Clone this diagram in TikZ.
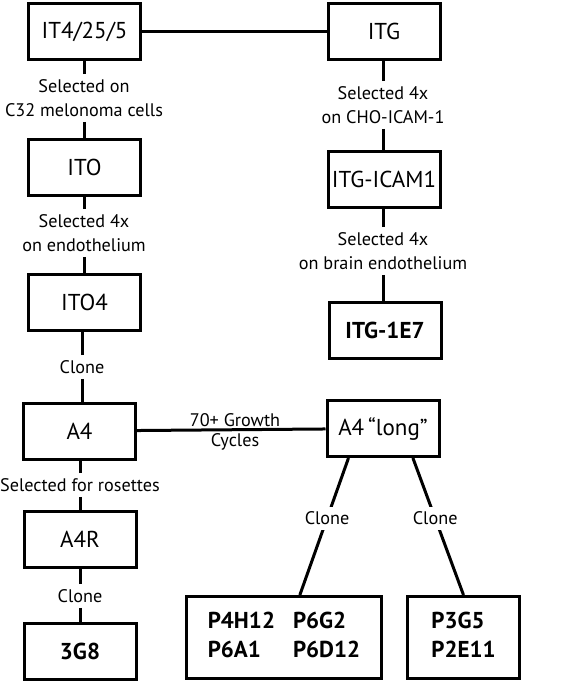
\documentclass[tikz,border=0pt]{standalone}
\usepackage{fontspec}
\setmainfont{PT Sans}
\usetikzlibrary{calc}

\begin{document}
\begin{tikzpicture}[x=1pt,y=-1pt]
\tikzset{box/.style = {shape=rectangle,draw,line width=3pt,minimum width=112pt,minimum height=56pt,inner sep=0pt,font=\fontsize{23}{26}\selectfont}}
\tikzset{lbl/.style = {align=center,inner sep=5pt,font=\fontsize{18.2}{24}\selectfont}}
\tikzset{edge/.style = {line width=3pt}}
\useasboundingbox (0,0) rectangle (566,685);
% boxes
\node[box] (it4) at (84.5,31.5) {IT4/25/5};
\node[box] (itg) at (384,31.5) {ITG};
\node[box] (ito) at (84.5,167.5) {ITO};
\node[box] (ito4) at (84.5,302.5) {ITO4};
\node[box] (a4) at (79.5,431) {A4};
\node[box] (a4r) at (80,539.5) {A4R};
\node[box] (g3g8) at (80,651.5) {\bfseries 3G8};
\node[box] (itgicam) at (384,179.5) {ITG-ICAM1};
\node[box] (itg1e7) at (385,330.5) {\bfseries ITG-1E7};
\node[box] (a4long) at (383,428.5) {A4\,“long”};
\node[box,minimum width=195pt,minimum height=82pt] (pa) at (284,637.5)
  {\bfseries\begin{tabular}{@{}l@{\hspace{18pt}}l@{}}P4H12 & P6G2\\[3pt] P6A1 & P6D12\end{tabular}};
\node[box,minimum height=82pt] (pb) at (463.5,637.5)
  {\bfseries\begin{tabular}{@{}l@{}}P3G5\\[3pt] P2E11\end{tabular}};

% labels
\node[lbl] (sel1) at (84,98) {Selected on\\C32 melonoma cells};
\node[lbl] (sel2) at (84,233) {Selected 4x\\on endothelium};
\node[lbl] (clone1) at (82,367) {Clone};
\node[lbl] (sel5) at (80,485) {Selected for rosettes};
\node[lbl] (clone2) at (80,596) {Clone};
\node[lbl] (sel3) at (383,105) {Selected 4x\\on CHO-ICAM-1};
\node[lbl] (sel4) at (383,251) {Selected 4x\\on brain endothelium};

%edges
\draw[edge] (it4) -- (itg);
\draw[edge] (sel1) -- (sel1 |- it4.south);
\draw[edge] (sel1) -- (sel1 |- ito.north);
\draw[edge] (sel2) -- (sel2 |- ito.south);
\draw[edge] (sel2) -- (sel2 |- ito4.north);
\draw[edge] (clone1) -- (clone1 |- ito4.south);
\draw[edge] (clone1) -- (clone1 |- a4.north);
\draw[edge] (sel5) -- (sel5 |- a4.south);
\draw[edge] (sel5) -- (sel5 |- a4r.north);
\draw[edge] (clone2) -- (clone2 |- a4r.south);
\draw[edge] (clone2) -- (clone2 |- g3g8.north);
\draw[edge] (sel3) -- (sel3 |- itg.south);
\draw[edge] (sel3) -- (sel3 |- itgicam.north);
\draw[edge] (sel4) -- (sel4 |- itgicam.south);
\draw[edge] (sel4) -- (sel4 |- itg1e7.north);
\draw[edge] (a4) -- node[lbl,above,inner sep=2pt,pos=.52]{70+ Growth} node[lbl,below,inner sep=2pt,pos=.52]{Cycles} (a4long);
\draw[edge] ($(a4long.south west)!.2!(a4long.south east)$) -- node[lbl,fill=white,pos=.44]{Clone} ($(pa.north west)!.58!(pa.north east)$);
\draw[edge] ($(a4long.south west)!.76!(a4long.south east)$) -- node[lbl,fill=white,pos=.44]{Clone} ($(pb.north west)!.5!(pb.north east)$);
\end{tikzpicture}
\end{document}
